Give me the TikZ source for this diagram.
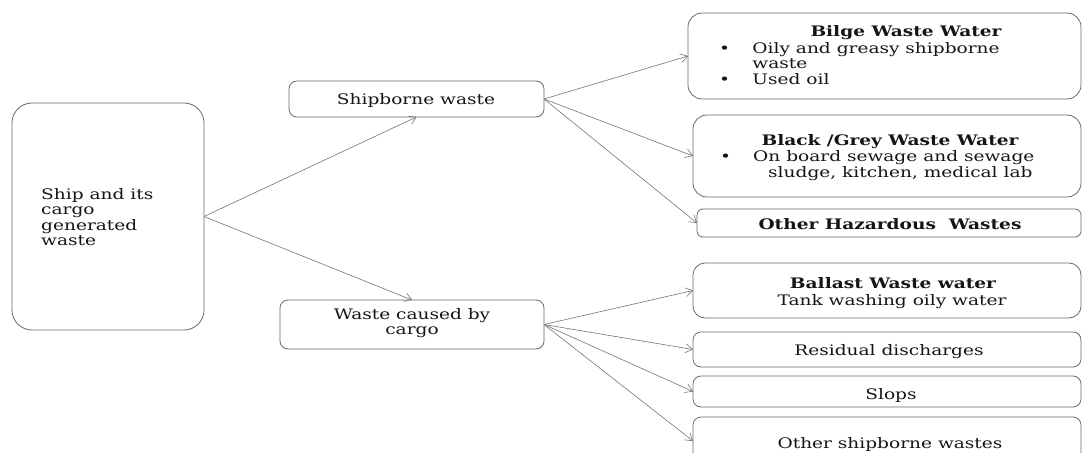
\documentclass[tikz,border=0pt]{standalone}
\usepackage{fontspec}
\setmainfont{DejaVu Serif}
\usetikzlibrary{arrows.meta}
\newcommand{\hs}[1]{\scalebox{1.28}[1]{#1}}
\definecolor{boxgray}{HTML}{6A6A6A}
\definecolor{linegray}{HTML}{757575}
\definecolor{txt}{HTML}{151515}
\begin{document}
\begin{tikzpicture}[x=1pt,y=-1pt,
  box/.style={draw=boxgray, line width=0.8pt, rounded corners=#1, inner sep=0pt, outer sep=0pt},
  box/.default=8pt,
  lbl/.style={inner sep=0pt, text=txt, font=\fontsize{14.5}{15.5}\selectfont},
  blbl/.style={lbl, font=\fontsize{14.5}{15.5}\selectfont\bfseries},
  conn/.style={draw=linegray, line width=0.6pt, -{Straight Barb[length=7pt,width=9pt]}}
]
\useasboundingbox (0,0) rectangle (1083,452);
\fill[white] (0,0) rectangle (1083,452);
\clip (0,0) rectangle (1083,452);

% left
\node[box=20pt, minimum width=192pt, minimum height=227pt] (root) at (108,216.5) {};
\node[lbl, anchor=base west] (rootT) at (41,199) {\hs{\begin{tabular}[t]{@{}l@{}}Ship and its\\cargo\\generated\\waste\end{tabular}}};

% middle
\node[box=8pt, minimum width=255pt, minimum height=36pt] (ship) at (416.5,99) {};
\node[lbl, anchor=base] (shipT) at (416,104) {\hs{Shipborne waste}};
\node[box=8pt, minimum width=264pt, minimum height=49pt] (cargo) at (412,324.5) {};
\node[lbl, anchor=base] (cargoT) at (412,319) {\hs{\begin{tabular}[t]{@{}c@{}}Waste caused by\\cargo\end{tabular}}};

% right top group
\node[box=14pt, minimum width=393pt, minimum height=86pt] (bilge) at (884.5,56) {};
\node[blbl, anchor=base] (bilgeT) at (906,37) {\hs{Bilge Waste Water}};
\node[lbl, anchor=base west] (bilgeB) at (719,53) {\hs{\begin{tabular}[t]{@{}p{26pt}@{}l@{}}• & Oily and greasy shipborne\\ & waste\\ • & Used oil\end{tabular}}};

\node[box=14pt, minimum width=388pt, minimum height=82pt] (black) at (887,156) {};
\node[blbl, anchor=base] (blackT) at (890,145) {\hs{Black /Grey Waste Water}};
\node[lbl, anchor=base west] (blackB) at (720,161) {\hs{•}};
\node[lbl, anchor=base west] (blackL1) at (753,161) {\hs{On board sewage and sewage}};
\node[lbl, anchor=base west] (blackL2) at (768,177) {\hs{sludge, kitchen, medical lab}};

\node[box=6pt, minimum width=384pt, minimum height=28pt] (haz) at (889,223) {};
\node[blbl, anchor=base] (hazT) at (890,229) {\hs{Other Hazardous\ \ Wastes}};

% right bottom group
\node[box=12pt, minimum width=388pt, minimum height=55pt] (ballast) at (887,290.5) {};
\node[blbl, anchor=base] (ballastT) at (893,288) {\hs{Ballast Waste water}};
\node[lbl, anchor=base] (ballastL) at (892,305) {\hs{Tank washing oily water}};

\node[box=8pt, minimum width=388pt, minimum height=35pt] (resid) at (887,349.5) {};
\node[lbl, anchor=base] (residT) at (889,355) {\hs{Residual discharges}};

\node[box=8pt, minimum width=388pt, minimum height=31pt] (slops) at (887,391.5) {};
\node[lbl, anchor=base] (slopsT) at (891,399) {\hs{Slops}};

\node[box=8pt, minimum width=388pt, minimum height=48pt] (other) at (887,441) {};
\node[lbl, anchor=base] (otherT) at (890,448) {\hs{Other shipborne wastes}};

% connectors
\draw[conn] (root.east) -- (ship.south);
\draw[conn] (root.east) -- (cargo.north);
\draw[conn] (ship.east) -- (bilge.west);
\draw[conn] (ship.east) -- (black.west);
\draw[conn] (ship.east) -- (haz.west);
\draw[conn] (cargo.east) -- (ballast.west);
\draw[conn] (cargo.east) -- (resid.west);
\draw[conn] (cargo.east) -- (slops.west);
\draw[conn] (cargo.east) -- (other.west);
\end{tikzpicture}
\end{document}
